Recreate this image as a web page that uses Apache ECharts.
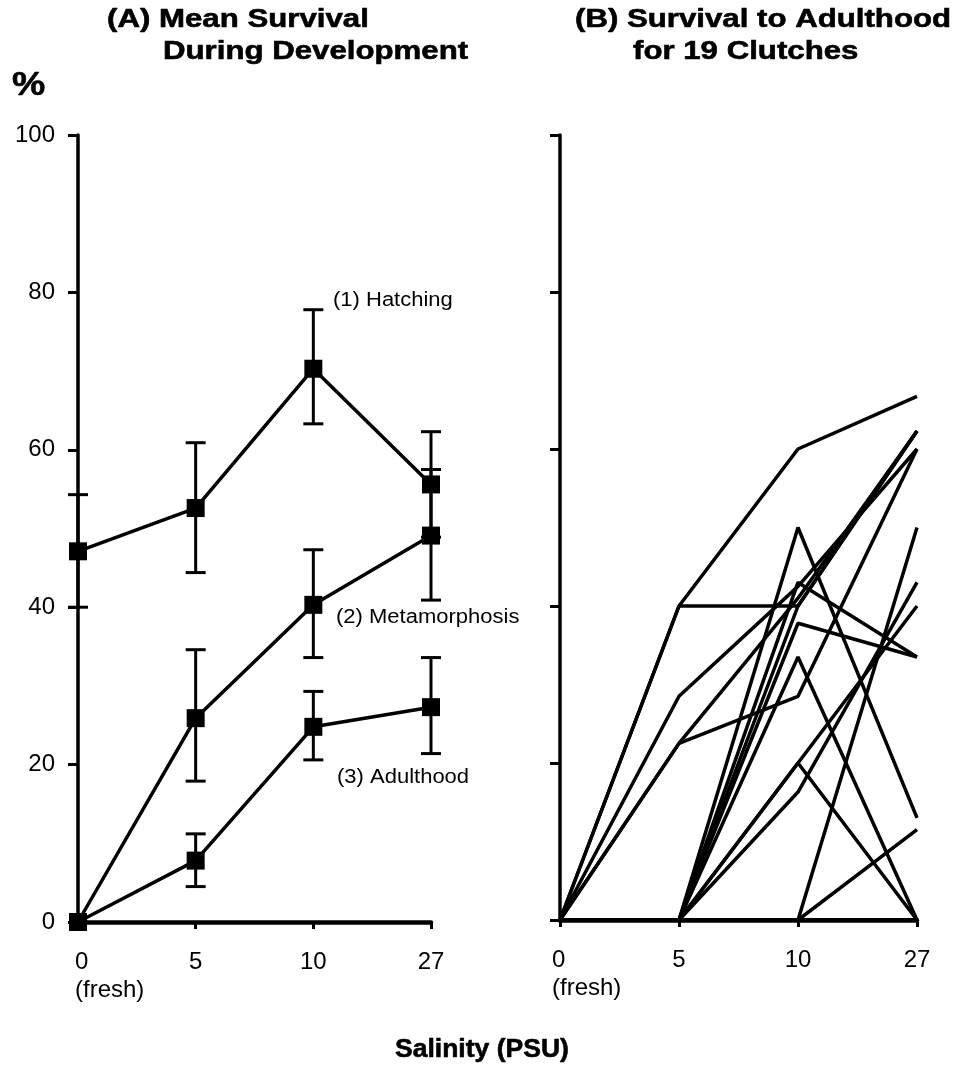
<!DOCTYPE html>
<html>
<head>
<meta charset="utf-8">
<script src="https://cdn.jsdelivr.net/npm/echarts@6/dist/echarts.min.js"></script>
<style>
html,body{margin:0;padding:0;background:#fff;}
#chart{width:959px;height:1069px;}
</style>
</head>
<body>
<div id="chart"></div>
<script>
// ---- data ----
const salinity = ['0\n(fresh)', '5', '10', '27'];
const yTicks = [0, 20, 40, 60, 80, 100];

const hatching      = [47.1, 52.6, 70.3, 55.6];
const hatchingLow   = [40.0, 44.4, 63.3, 48.9];
const hatchingHigh  = [54.3, 60.9, 77.8, 62.3];

const metamorphosis     = [0, 25.9, 40.3, 49.1];
const metamorphosisLow  = [null, 17.9, 33.6, 40.9];
const metamorphosisHigh = [null, 34.6, 47.3, 57.5];

const adulthood     = [0, 7.8, 24.8, 27.3];
const adulthoodLow  = [null, 4.5, 20.6, 21.4];
const adulthoodHigh = [null, 11.2, 29.3, 33.6];

// panel B: survival to adulthood, 19 clutches
const clutch01 = [0, 40, 60, 66.7];
const clutch02 = [0, 40, 40, 62.3];
const clutch03 = [0, 28.5, 42.5, 60];
const clutch04 = [0, 22.5, 41, 62.3];
const clutch05 = [0, 22.5, 28.5, 60];
const clutch06 = [0, 0, 50, 13];
const clutch07 = [0, 0, 43, 33.5];
const clutch08 = [0, 0, 37.8, 33.5];
const clutch09 = [0, 0, 33.5, 0];
const clutch10 = [0, 0, 20, 0];
const clutch11 = [0, 0, 20, 40];
const clutch12 = [0, 0, 16.3, 43];
const clutch13 = [0, 0, 0, 50];
const clutch14 = [0, 0, 0, 11.5];
const clutch15 = [0, 0, 40, 62.3];
const clutch16 = [0, 0, 0, 0];
const clutch17 = [0, 0, 0, 0];
const clutch18 = [0, 0, 0, 0];
const clutch19 = [0, 0, 0, 0];
const clutches = [clutch01, clutch02, clutch03, clutch04, clutch05, clutch06, clutch07,
  clutch08, clutch09, clutch10, clutch11, clutch12, clutch13, clutch14, clutch15,
  clutch16, clutch17, clutch18, clutch19];

const titleA = ['(A) Mean Survival', 'During Development'];
const titleB = ['(B) Survival to Adulthood', 'for 19 Clutches'];
const yName = '%';
const xName = 'Salinity (PSU)';
const stageLabels = ['(1) Hatching', '(2) Metamorphosis', '(3) Adulthood'];

// ---- chart ----
const FONT = '"Liberation Sans", Arial, Helvetica, sans-serif';
const chart = echarts.init(document.getElementById('chart'), null, {renderer: 'canvas'});

function xAxisDef(gridIndex) {
  return {
    type: 'category', gridIndex: gridIndex, boundaryGap: false,
    data: salinity.map((s, i) => i === 0 ? {value: s, textStyle: {align: 'left', padding: [0, 0, 0, gridIndex === 0 ? -3 : -8]}} : s),
    axisLine: {show: true, lineStyle: {color: '#000', width: 4.5}},
    axisTick: {show: true, length: 7, lineStyle: {color: '#000', width: 3}},
    axisLabel: {color: '#000', fontFamily: FONT, fontSize: 24, margin: 26, lineHeight: 28, interval: 0},
    splitLine: {show: false}
  };
}
function yAxisDef(gridIndex, showLabels) {
  return {
    type: 'value', gridIndex: gridIndex, min: yTicks[0], max: yTicks[yTicks.length - 1], interval: 20,
    axisLine: {show: true, lineStyle: {color: '#000', width: 3.5}},
    axisTick: {show: true, length: 10, lineStyle: {color: '#000', width: 3}},
    axisLabel: {show: showLabels, color: '#000', fontFamily: FONT, fontSize: 24, margin: 23},
    splitLine: {show: false}
  };
}

function errorSeries(low, high) {
  const d = [];
  low.forEach((l, i) => { if (l !== null) d.push([i, l, high[i]]); });
  return {
    type: 'custom', xAxisIndex: 0, yAxisIndex: 0, data: d, z: 3,
    renderItem: function (params, api) {
      const x = api.value(0);
      const pLo = api.coord([x, api.value(1)]);
      const pHi = api.coord([x, api.value(2)]);
      const hw = 10;
      const st = {stroke: '#000', lineWidth: 3};
      return {type: 'group', children: [
        {type: 'line', shape: {x1: pLo[0], y1: pLo[1], x2: pHi[0], y2: pHi[1]}, style: st},
        {type: 'line', shape: {x1: pLo[0] - hw, y1: pLo[1], x2: pLo[0] + hw, y2: pLo[1]}, style: st},
        {type: 'line', shape: {x1: pHi[0] - hw, y1: pHi[1], x2: pHi[0] + hw, y2: pHi[1]}, style: st}
      ]};
    }
  };
}
function meanSeries(name, vals) {
  return {
    name: name, type: 'line', xAxisIndex: 0, yAxisIndex: 0, data: vals, z: 4,
    symbol: 'rect', symbolSize: 18, showAllSymbol: true,
    lineStyle: {color: '#000', width: 3.5}, itemStyle: {color: '#000'}
  };
}

const series = [
  errorSeries(hatchingLow, hatchingHigh),
  errorSeries(metamorphosisLow, metamorphosisHigh),
  errorSeries(adulthoodLow, adulthoodHigh),
  meanSeries(stageLabels[0], hatching),
  meanSeries(stageLabels[1], metamorphosis),
  meanSeries(stageLabels[2], adulthood)
];
clutches.forEach((c, i) => {
  series.push({
    name: 'Clutch ' + (i + 1), type: 'line', xAxisIndex: 1, yAxisIndex: 1, data: c,
    symbol: 'none', lineStyle: {color: '#000', width: 3.5}
  });
});

function txt(str, x, y, size, bold, sx, stroke) {
  const style = {text: str, fill: '#000', font: (bold ? 'bold ' : '') + size + 'px ' + FONT,
    textAlign: 'left', textVerticalAlign: 'middle'};
  if (stroke) { style.stroke = '#000'; style.lineWidth = stroke; }
  return {type: 'text', x: x, y: y, scaleX: sx || 1, style: style};
}

chart.setOption({
  animation: false,
  backgroundColor: '#fff',
  grid: [
    {left: 78, top: 135, width: 353, height: 787},
    {left: 560, top: 135, width: 357, height: 785}
  ],
  xAxis: [xAxisDef(0), xAxisDef(1)],
  yAxis: [yAxisDef(0, true), yAxisDef(1, false)],
  series: series,
  graphic: [
    txt(titleA[0], 107, 20, 26, true, 1.2, 0.6),
    txt(titleA[1], 163, 52, 26, true, 1.2, 0.6),
    txt(titleB[0], 575, 20, 26, true, 1.2, 0.6),
    txt(titleB[1], 633, 52, 26, true, 1.2, 0.6),
    txt(yName, 12, 86, 34, true, 1.1, 0.6),
    txt(stageLabels[0], 333, 300, 20, false, 1.1),
    txt(stageLabels[1], 336, 617, 20, false, 1.1),
    txt(stageLabels[2], 337, 777, 20, false, 1.1),
    txt(xName, 395, 1050, 26, true, 1.02, 0.6)
  ]
});
</script>
</body>
</html>
